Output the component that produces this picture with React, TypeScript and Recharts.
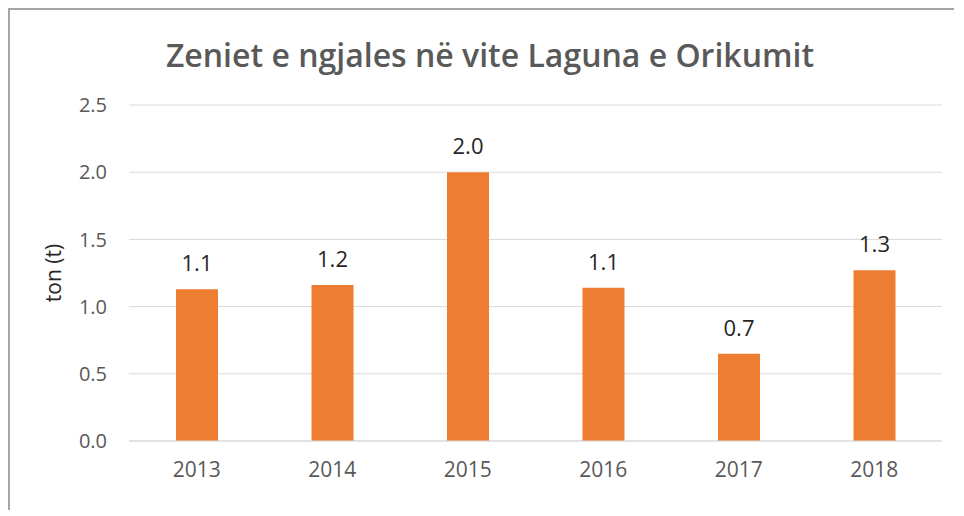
import { BarChart, Bar, XAxis, YAxis, CartesianGrid, LabelList, Label } from 'recharts';

const years = ['2013', '2014', '2015', '2016', '2017', '2018'];
const tonnes = [1.13, 1.16, 2.0, 1.14, 0.65, 1.27];
const yTicks = [0, 0.5, 1.0, 1.5, 2.0, 2.5];

const title = 'Zeniet e ngjales në vite Laguna e Orikumit';
const yTitle = 'ton (t)';

const font = '"Open Sans", "Noto Sans", sans-serif';

export default function App() {
  // tabela për recharts
  const data = years.map((y, i) => ({ year: y, value: tonnes[i] }));

  return (
    <div
      style={{
        position: 'relative',
        width: 944,
        height: 508,
        marginBottom: -8,
        borderTop: '2px solid #a6a6a6',
        borderLeft: '2px solid #a6a6a6',
        fontFamily: font,
        background: '#fff',
      }}
    >
      <div
        style={{
          position: 'absolute',
          left: 8,
          top: 25,
          width: 944,
          textAlign: 'center',
          fontSize: 32,
          fontWeight: 600,
          color: '#595959',
          lineHeight: '39px',
        }}
      >
        {title}
      </div>
      <BarChart
        width={944}
        height={490}
        data={data}
        margin={{ top: 95, right: 12, left: 0, bottom: 29 }}
      >
        <CartesianGrid vertical={false} stroke="#d9d9d9" />
        <XAxis
          dataKey="year"
          axisLine={{ stroke: '#d9d9d9' }}
          tickLine={false}
          tickSize={0}
          tickMargin={21}
          tick={{ fill: '#595959', fontSize: 21, fontFamily: font }}
        />
        <YAxis
          width={119}
          domain={[0, 2.5]}
          ticks={yTicks}
          axisLine={false}
          tickLine={false}
          tickSize={0}
          tickMargin={22}
          tickFormatter={(v: number) => v.toFixed(1)}
          tick={{ fill: '#595959', fontSize: 20, fontFamily: font }}
        >
          <Label
            value={yTitle}
            angle={-90}
            position="insideLeft"
            offset={44}
            style={{ textAnchor: 'middle', fill: '#262626', fontSize: 21, fontFamily: font }}
          />
        </YAxis>
        <Bar dataKey="value" fill="#ED7D31" barSize={42} isAnimationActive={false}>
          <LabelList
            dataKey="value"
            position="top"
            offset={18}
            formatter={(v: number) => v.toFixed(1)}
            style={{ fill: '#262626', fontSize: 22, fontFamily: font }}
          />
        </Bar>
      </BarChart>
    </div>
  );
}
